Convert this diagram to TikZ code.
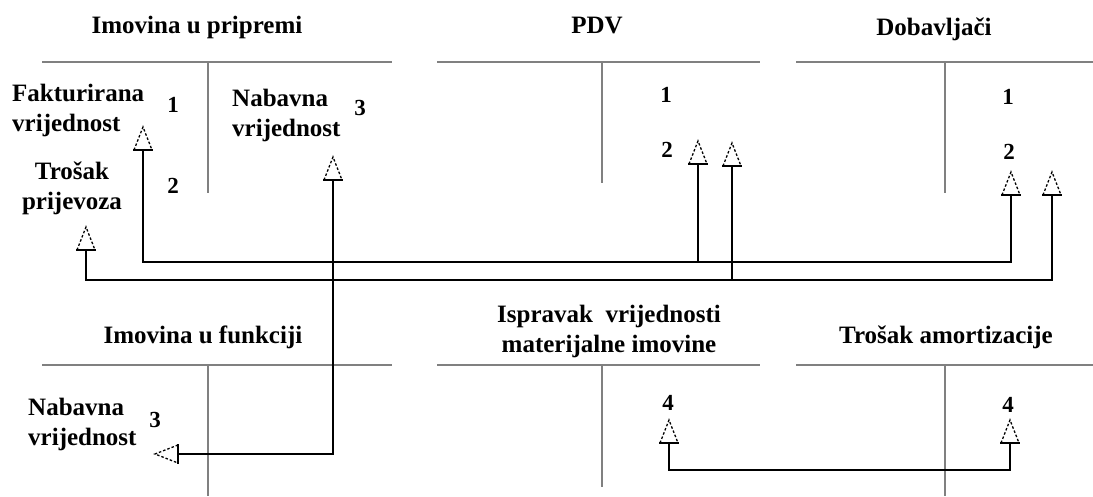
\documentclass[tikz,border=0pt]{standalone}
\usepackage{fontspec}
\setmainfont{Liberation Serif}
\definecolor{tline}{RGB}{128,128,128}
\tikzset{
  lbl/.style={inner sep=0pt, font=\bfseries\fontsize{25}{29.5}\selectfont},
  num/.style={inner sep=0pt, font=\bfseries\fontsize{23}{27}\selectfont, anchor=base},
  acct/.style={draw=tline, line width=2.5pt},
  conn/.style={draw=black, line width=1.8pt},
  uptip/.pic={
    \fill[white] (-10,0) -- (0,-23) -- (10,0) -- cycle;
    \draw[line width=1.3pt, dash pattern=on 2.5pt off 2pt] (-9,0) -- (0,-23) -- (9,0);
    \draw[line width=1.3pt] (-10,0) -- (10,0);
  },
  lefttip/.pic={
    \fill[white] (0,-10) -- (-23,0) -- (0,10) -- cycle;
    \draw[line width=1.3pt, dash pattern=on 2.5pt off 2pt] (0,-9) -- (-23,0) -- (0,9);
    \draw[line width=1.3pt] (0,-10) -- (0,10);
  }
}
\begin{document}
\begin{tikzpicture}[x=1pt,y=-1pt]
\useasboundingbox[fill=white] (0,0) rectangle (1093,496);

% T-accounts (top row)
\draw[acct] (42,62) -- (392,62);  \draw[acct] (208,62) -- (208,193);
\draw[acct] (437,62) -- (760,62); \draw[acct] (602,62) -- (602,183);
\draw[acct] (796,62) -- (1093,62); \draw[acct] (945,62) -- (945,193);
% T-accounts (bottom row)
\draw[acct] (42,365) -- (392,365);  \draw[acct] (208,365) -- (208,496);
\draw[acct] (437,365) -- (760,365); \draw[acct] (602,365) -- (602,487);
\draw[acct] (796,365) -- (1093,365); \draw[acct] (945,365) -- (945,496);

% titles
\node[lbl, anchor=base] (tipr) at (197,33) {Imovina u pripremi};
\node[lbl, anchor=base] (tpdv) at (597,33) {PDV};
\node[lbl, anchor=base] (tdob) at (934,35) {Dobavljači};
\node[lbl, anchor=base] (tfun) at (203,343) {Imovina u funkciji};
\node[lbl, anchor=base, align=center] (tisp) at (609,352) {Ispravak\ \ vrijednosti\\materijalne imovine};
\node[lbl, anchor=base] (tamo) at (946,343) {Trošak amortizacije};

% entry labels (base = baseline of the last line)
\node[lbl, anchor=base west, align=left] (fakt) at (12,131) {Fakturirana\\vrijednost};
\node[lbl, anchor=base west, align=left] (nab1) at (232,136) {Nabavna\\vrijednost};
\node[lbl, anchor=base, align=center] (tros) at (72,209) {Trošak\\prijevoza};
\node[lbl, anchor=base west, align=left] (nab2) at (28,445) {Nabavna\\vrijednost};

% numbers
\node[num] (n1a) at (173,112) {1};
\node[num] (n2a) at (173,193) {2};
\node[num] (n3a) at (360,115) {3};
\node[num] (n1p) at (666,102) {1};
\node[num] (n2p) at (667,157) {2};
\node[num] (n1d) at (1008,104) {1};
\node[num] (n2d) at (1009,159) {2};
\node[num] (n3b) at (155,427) {3};
\node[num] (n4i) at (668,410) {4};
\node[num] (n4t) at (1008,412) {4};

% arrow tip positions (base centres)
\coordinate (a1) at (143,150);
\coordinate (a2) at (333,180);
\coordinate (a3) at (86,250);
\coordinate (p1) at (698,164);
\coordinate (p2) at (732,166);
\coordinate (d1) at (1011,195);
\coordinate (d2) at (1052,195);
\coordinate (lt) at (178,454);
\coordinate (i4) at (669,443);
\coordinate (k4) at (1010,443);
% routing levels
\coordinate (y1) at (0,262);
\coordinate (y2) at (0,280);
\coordinate (y4) at (0,470);

% connectors
\draw[conn] (a1) -- (a1 |- y1) -| (d1);
\draw[conn] (p1) -- (p1 |- y1);
\draw[conn] (a3) -- (a3 |- y2) -| (d2);
\draw[conn] (p2) -- (p2 |- y2);
\draw[conn] (a2) |- (lt);
\draw[conn] (i4) -- (i4 |- y4) -| (k4);

% tips
\foreach \c in {a1,a2,a3,p1,p2,d1,d2,i4,k4} { \pic at (\c) {uptip}; }
\pic at (lt) {lefttip};
\end{tikzpicture}
\end{document}
